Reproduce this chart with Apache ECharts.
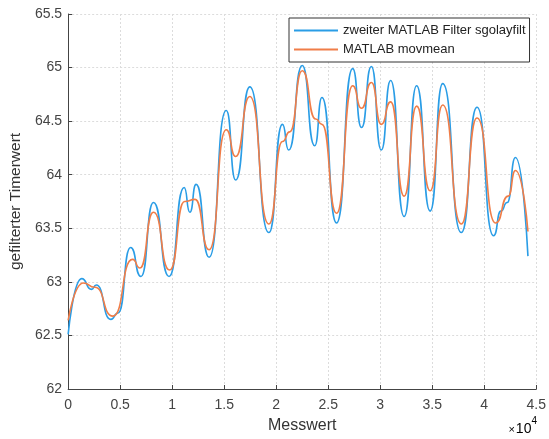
<!DOCTYPE html>
<html>
<head>
<meta charset="utf-8">
<script src="https://cdn.jsdelivr.net/npm/echarts@6/dist/echarts.min.js"></script>
<style>
  html, body { margin: 0; padding: 0; background: #fff; }
  #chart { width: 549px; height: 439px; }
</style>
</head>
<body>
<div id="chart"></div>
<script>
// x values in units of 1e4 (Messwert)
const sgolayX = [0, 0.13, 0.224, 0.27, 0.41, 0.48, 0.60, 0.70, 0.82, 0.97, 1.115, 1.17, 1.23, 1.355,
  1.52, 1.61, 1.746, 1.93, 2.06, 2.12, 2.25, 2.37, 2.44, 2.58, 2.735, 2.82, 2.915, 3.01, 3.10,
  3.23, 3.35, 3.48, 3.60, 3.78, 3.93, 4.09, 4.16, 4.22, 4.30, 4.42];
const sgolayY = [62.51, 63.03, 62.93, 62.97, 62.65, 62.71, 63.32, 63.05, 63.74, 63.05, 63.88, 63.65, 63.91, 63.23,
  64.60, 63.95, 64.82, 63.46, 64.47, 64.23, 65.02, 64.27, 64.72, 63.55, 64.99, 64.44, 65.01, 64.23, 64.88,
  63.61, 64.83, 63.66, 64.85, 63.46, 64.63, 63.43, 63.66, 63.74, 64.16, 63.24];

const movmeanX = [0, 0.145, 0.256, 0.43, 0.62, 0.69, 0.82, 0.976, 1.12, 1.22, 1.355, 1.52, 1.61, 1.746,
  1.93, 2.06, 2.13, 2.25, 2.38, 2.44, 2.58, 2.735, 2.82, 2.915, 3.01, 3.10, 3.23, 3.35, 3.48,
  3.60, 3.78, 3.93, 4.11, 4.23, 4.30, 4.42];
const movmeanY = [62.64, 62.99, 62.95, 62.68, 63.21, 63.13, 63.65, 63.11, 63.75, 63.77, 63.30, 64.42, 64.17, 64.73,
  63.54, 64.31, 64.40, 64.97, 64.52, 64.47, 63.64, 64.83, 64.62, 64.86, 64.47, 64.68, 63.80, 64.64, 63.85,
  64.65, 63.54, 64.53, 63.55, 63.80, 64.04, 63.47];

const seriesNames = ['zweiter MATLAB Filter sgolayfilt', 'MATLAB movmean'];

const toPairs = (xs, ys) => xs.map((x, i) => [x * 10000, ys[i]]);

const chart = echarts.init(document.getElementById('chart'));
const font = 'Liberation Sans, Arial, sans-serif';
const axisColor = '#444';

chart.setOption({
  animation: false,
  grid: { left: 63, right: 11, top: 14, bottom: 49 },
  legend: {
    orient: 'vertical',
    left: 289,
    top: 18,
    padding: [5, 4, 5, 5],
    itemGap: 4,
    itemWidth: 44,
    itemHeight: 2,
    icon: 'rect',
    borderColor: '#333',
    borderWidth: 1,
    backgroundColor: '#fff',
    textStyle: { fontFamily: font, fontSize: 13, color: '#222', lineHeight: 15 },
    data: seriesNames
  },
  xAxis: {
    type: 'value',
    min: 0,
    max: 45000,
    interval: 5000,
    name: 'Messwert',
    nameLocation: 'middle',
    nameGap: 29,
    nameTextStyle: { fontFamily: font, fontSize: 16, color: '#333' },
    axisLine: { lineStyle: { color: axisColor, width: 1 } },
    axisTick: { inside: true, length: 4, lineStyle: { color: axisColor } },
    axisLabel: {
      fontFamily: font, fontSize: 14, color: '#444', margin: 9,
      formatter: v => String(v / 10000)
    },
    splitLine: { show: true, lineStyle: { color: '#dcdcdc', type: [2, 2] } }
  },
  yAxis: {
    type: 'value',
    min: 62,
    max: 65.5,
    interval: 0.5,
    name: 'gefilterter Timerwert',
    nameLocation: 'middle',
    nameGap: 42,
    nameTextStyle: { fontFamily: font, fontSize: 15.5, color: '#333' },
    axisLine: { show: true, lineStyle: { color: axisColor, width: 1 } },
    axisTick: { show: true, inside: true, length: 4, lineStyle: { color: axisColor } },
    axisLabel: { fontFamily: font, fontSize: 14, color: '#444', margin: 6 },
    splitLine: { show: true, lineStyle: { color: '#dcdcdc', type: [2, 2] } }
  },
  graphic: [
    {
      type: 'text',
      right: 12,
      top: 416,
      style: {
        text: '{a|×}{c|10}{b|4}',
        rich: {
          a: { fontFamily: font, fontSize: 11, color: '#555', padding: [8, 1, 0, 0] },
          c: { fontFamily: font, fontSize: 14, color: '#444', padding: [6, 0, 0, 0] },
          b: { fontFamily: font, fontSize: 10, color: '#444', verticalAlign: 'top' }
        }
      }
    }
  ],
  series: [
    {
      name: seriesNames[0],
      type: 'line',
      symbol: 'none',
      smooth: 0.6,
      smoothMonotone: 'x',
      data: toPairs(sgolayX, sgolayY),
      lineStyle: { color: '#2a9de6', width: 1.6 },
      itemStyle: { color: '#2a9de6' }
    },
    {
      name: seriesNames[1],
      type: 'line',
      symbol: 'none',
      smooth: 0.6,
      smoothMonotone: 'x',
      data: toPairs(movmeanX, movmeanY),
      lineStyle: { color: '#f07d48', width: 1.6 },
      itemStyle: { color: '#f07d48' }
    }
  ]
});
</script>
</body>
</html>
